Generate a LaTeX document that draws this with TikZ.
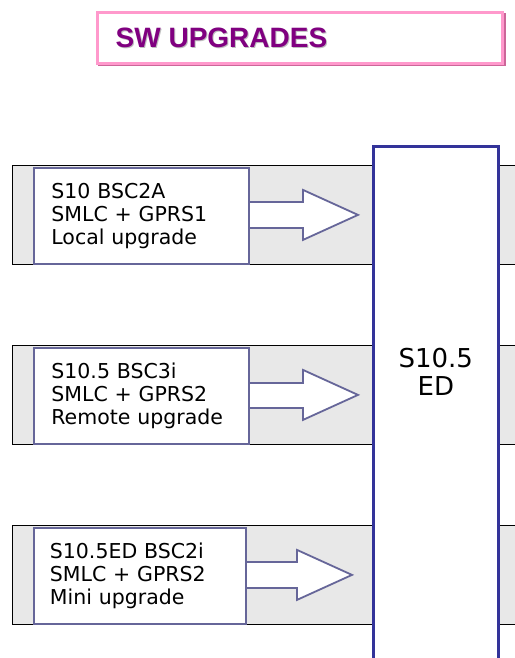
\documentclass[tikz,border=0pt]{standalone}
\usepackage{fontspec}
\setmainfont{DejaVu Sans}
\newfontfamily\titlefont{Liberation Sans}
\usetikzlibrary{calc, positioning}
\definecolor{bandgrey}{HTML}{E8E8E8}
\definecolor{boxline}{HTML}{666699}
\definecolor{edline}{HTML}{333399}
\definecolor{edshadow}{HTML}{1F1F70}
\definecolor{titlepink}{HTML}{FF99CC}
\definecolor{titleshade}{HTML}{CC6699}
\definecolor{titletext}{HTML}{800080}

\begin{document}
\begin{tikzpicture}[
    x=1pt, y=-1pt,
    band/.style={rectangle, draw=black, line width=0.8pt, fill=bandgrey, anchor=north west, minimum width=520pt, minimum height=99pt, inner sep=0},
    release/.style={rectangle, draw=boxline, line width=1.8pt, fill=white, anchor=north west, minimum width=215pt, minimum height=96pt, text width=180pt, align=left, inner sep=0, font=\fontsize{20.5}{23}\selectfont},
    upgrade/.style={draw=boxline, line width=1.8pt, fill=white, line join=miter},
    edbox/.style={rectangle, draw=edline, line width=2.6pt, fill=white, anchor=north west, minimum width=125pt, minimum height=540pt, inner sep=0},
    titletype/.style={anchor=base west, inner sep=0, font=\titlefont\bfseries\fontsize{28}{32}\selectfont}
]
\useasboundingbox (0,0) rectangle (514,658);

% Title
\fill[titleshade] (98,13) rectangle (506,66);
\node (title) [rectangle, draw=titlepink, line width=2.6pt, fill=white, anchor=north west, minimum width=405pt, minimum height=51pt, inner sep=0] at (96,11) {};
\node [titletype, text=black!25] at ($(title.west)+(20.5,11.2)$) {SW UPGRADES};
\node (titlelabel) [titletype, text=titletext] at ($(title.west)+(19.5,10.2)$) {SW UPGRADES};

% Grey bands
\node (band1) [band] at (12,165) {};
\node (band2) [band] at (12,345) {};
\node (band3) [band] at (12,525) {};

% Target release
\fill[edshadow] (374,147) rectangle (499.5,700);
\node (ed) [edbox] at (372,145) {};
\node (edlabel) [align=center, inner sep=0, font=\fontsize{26}{28}\selectfont] at ($(ed.north)+(0,227)$) {S10.5\\ED};

% Upgrade arrows (tails hidden under the release boxes)
\foreach \b/\r in {band1/rel1, band2/rel2, band3/rel3} {
  \path (\b.west) ++(21,0) coordinate (\r-a);
}
\draw[upgrade] ($(rel1-a)+(207,-13)$) -- ++(63,0) -- ++(0,-12) -- ($(ed.west|-rel1-a)+(-14,0)$) -- ($(rel1-a)+(270,25)$) -- ++(0,-12) -- ++(-63,0);
\draw[upgrade] ($(rel2-a)+(207,-12)$) -- ++(63,0) -- ++(0,-13) -- ($(ed.west|-rel2-a)+(-14,0)$) -- ($(rel2-a)+(270,25)$) -- ++(0,-12) -- ++(-63,0);
\draw[upgrade] ($(rel3-a)+(204,-13)$) -- ++(60,0) -- ++(0,-12) -- ($(ed.west|-rel3-a)+(-20,0)$) -- ($(rel3-a)+(264,25)$) -- ++(0,-12) -- ++(-60,0);

% Source releases
\node (rel1) [release] at (33,167) {S10 BSC2A\\SMLC + GPRS1\\Local upgrade};
\node (rel2) [release] at (33,347) {S10.5 BSC3i\\SMLC + GPRS2\\Remote upgrade};
\node (rel3) [release, minimum width=212pt] at (33,527) {S10.5ED BSC2i\\SMLC + GPRS2\\Mini upgrade};

\end{tikzpicture}
\end{document}
